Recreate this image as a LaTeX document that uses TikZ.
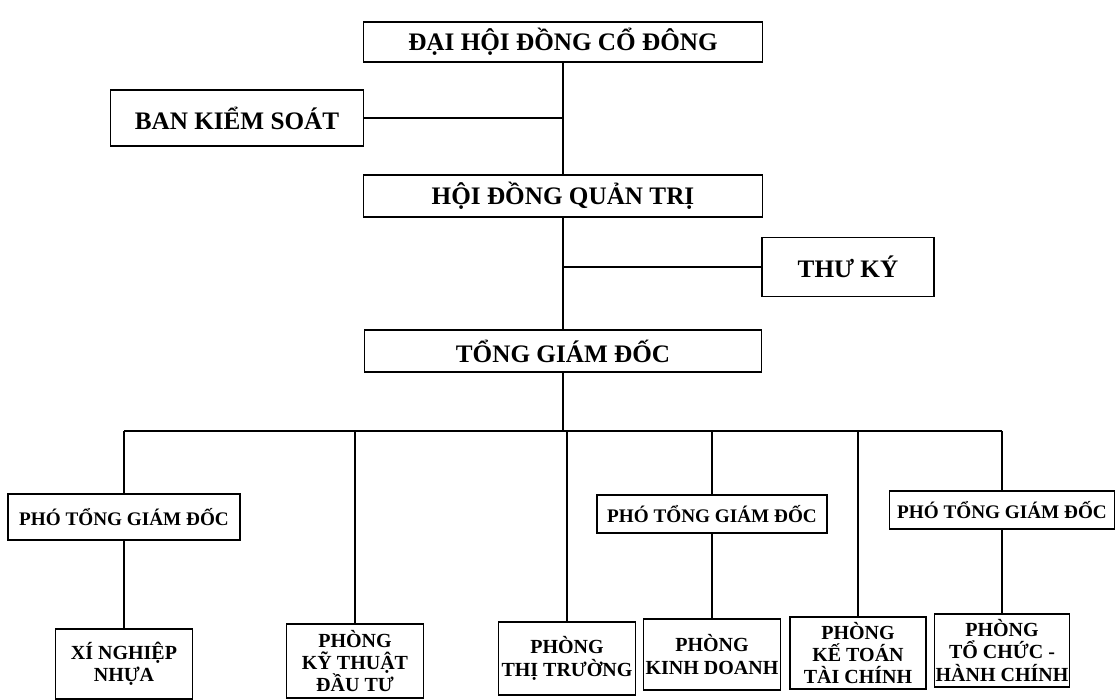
\documentclass[tikz,border=0pt]{standalone}
\usepackage{fontspec}
\setmainfont{Liberation Serif}

\tikzset{
	box/.style={draw, line width=0.7pt, inner sep=0pt, align=center, font=\fontsize{12.6}{14}\selectfont\bfseries},
	small/.style={box, font=\fontsize{9.6}{11}\selectfont\bfseries},
	dept/.style={box, font=\fontsize{10}{11.2}\selectfont\bfseries},
	sz/.style 2 args={minimum width={#1*0.5pt}, minimum height={#2*0.5pt}},
}

\begin{document}
\begin{tikzpicture}[x=0.5pt, y=-0.5pt, line width=0.7pt]
		\useasboundingbox (0,0) rectangle (1116,700);
		
		\node[box, sz={399}{40}] (dhdcd) at (563,42) {ĐẠI HỘI ĐỒNG CỔ ĐÔNG};
		\node[box, sz={253}{56}] (bks) at (237,118) {BAN KIỂM SOÁT};
		\node[box, sz={399}{42}] (hdqt) at (563,196) {HỘI ĐỒNG QUẢN TRỊ};
		\node[box, sz={172}{59}] (thuky) at (848,267) {THƯ KÝ};
		\node[box, sz={397}{42}] (tgd) at (563,351) {TỔNG GIÁM ĐỐC};
		
		\node[small, sz={232}{46}] (ptgd1) at (124,517) {PHÓ TỔNG GIÁM ĐỐC};
		\node[small, sz={230}{38}] (ptgd2) at (712,514) {PHÓ TỔNG GIÁM ĐỐC};
		\node[small, sz={225}{38}] (ptgd3) at (1002,510) {PHÓ TỔNG GIÁM ĐỐC};
		
		\node[dept, sz={137}{70}] (xn) at (124,664) {XÍ NGHIỆP\\NHỰA};
		\node[dept, sz={137}{74}] (ktdt) at (355,661) {PHÒNG\\KỸ THUẬT\\ĐẦU TƯ};
		\node[dept, sz={137}{73}] (tt) at (567,658.5) {PHÒNG\\THỊ TRƯỜNG};
		\node[dept, sz={137}{71}] (kd) at (712,654.5) {PHÒNG\\KINH DOANH};
		\node[dept, sz={136}{72}] (kttc) at (858,653) {PHÒNG\\KẾ TOÁN\\TÀI CHÍNH};
		\node[dept, sz={135}{73}] (tchc) at (1002,650.5) {PHÒNG\\TỔ CHỨC -\\HÀNH CHÍNH};
		
		\coordinate (bus) at (563,431);
		
		\draw (dhdcd) -- (hdqt);
		\draw (bks.east) -- (bks.east -| dhdcd.south);
		\draw (hdqt) -- (tgd);
		\draw (thuky.west) -- (thuky.west -| hdqt.south);
		\draw (tgd) -- (bus);
		
		\draw (bus -| ptgd1) -- (bus -| ptgd3);
		\foreach \n in {ptgd1,ktdt,tt,ptgd2,kttc,ptgd3}
			\draw (bus -| \n) -- (\n.north);
		
		\draw (ptgd1) -- (xn);
		\draw (ptgd2) -- (kd);
		\draw (ptgd3) -- (tchc);
	\end{tikzpicture}
\end{document}
